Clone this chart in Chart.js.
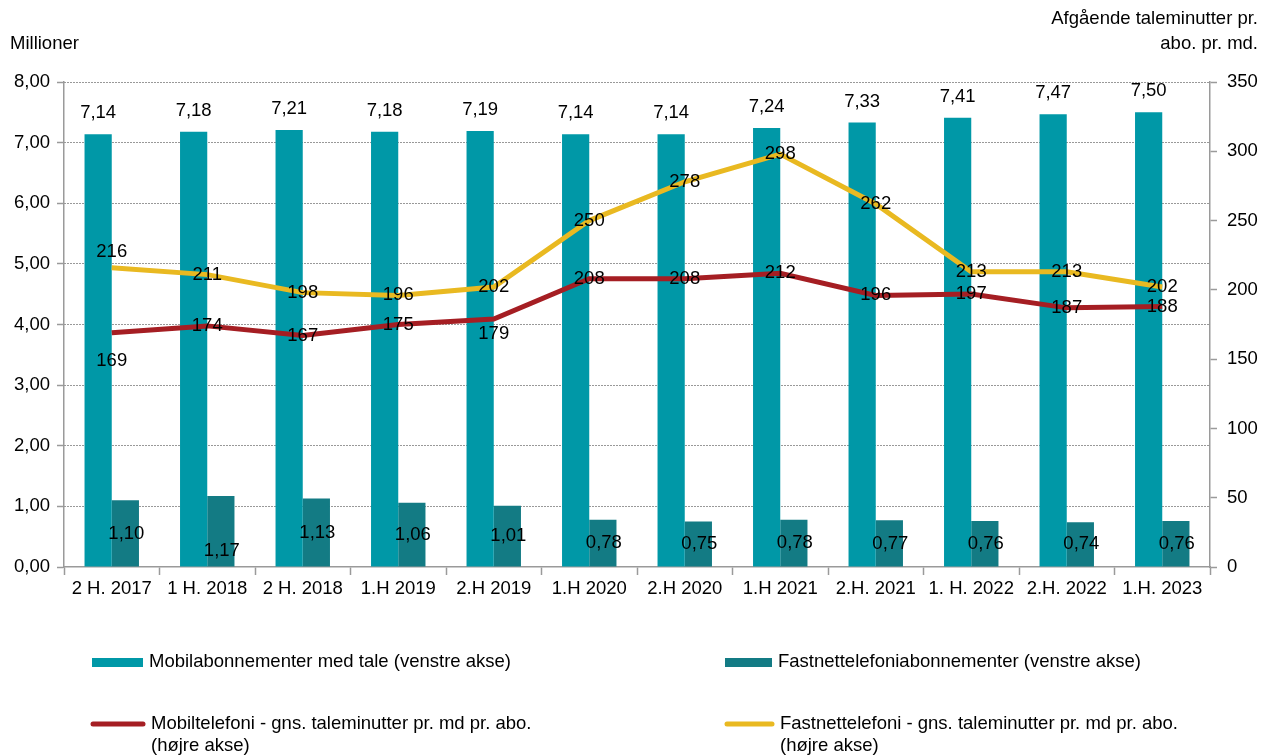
<!DOCTYPE html>
<html lang="da">
<head>
<meta charset="utf-8">
<title>Tale: abonnementer og taleminutter</title>
<script src="https://cdn.jsdelivr.net/npm/chart.js@4.4.1/dist/chart.umd.min.js"></script>
<style>
  html, body { margin: 0; padding: 0; background: #fff; }
  #wrap { position: relative; width: 1275px; height: 756px; }
</style>
</head>
<body>
<div id="wrap"><canvas id="chart"></canvas></div>
<script>
// ── data ─────────────────────────────────────
const periods = ['2 H. 2017', '1 H. 2018', '2 H. 2018', '1.H 2019', '2.H 2019', '1.H 2020',
                 '2.H 2020', '1.H 2021', '2.H. 2021', '1. H. 2022', '2.H. 2022', '1.H. 2023'];
const mobilAbo = [7.14, 7.18, 7.21, 7.18, 7.19, 7.14, 7.14, 7.24, 7.33, 7.41, 7.47, 7.50];
const fastnetAbo = [1.10, 1.17, 1.13, 1.06, 1.01, 0.78, 0.75, 0.78, 0.77, 0.76, 0.74, 0.76];
const mobilMinutter = [169, 174, 167, 175, 179, 208, 208, 212, 196, 197, 187, 188];
const fastnetMinutter = [216, 211, 198, 196, 202, 250, 278, 298, 262, 213, 213, 202];
const leftTicks = [0, 1, 2, 3, 4, 5, 6, 7, 8];
const rightTicks = [0, 50, 100, 150, 200, 250, 300, 350];

const FONT = '"Liberation Sans", Arial, sans-serif';
const FS = 18.5;
const AXIS_GREY = '#9a9a9a';
const comma = (v, d) => v.toFixed(d).replace('.', ',');

// ── labels on bars and lines ─────────────────
const valueLabels = {
    id: 'valueLabels',
    afterDatasetsDraw(chart) {
        const ctx = chart.ctx;
        ctx.save();
        ctx.font = FS + 'px ' + FONT;
        ctx.fillStyle = '#000';
        ctx.textAlign = 'center';
        ctx.textBaseline = 'middle';
        // a few labels sit off their point in the original
        const nudge = { '3:0': -16, '2:0': 28, '2:4': 15, '1:1': 20 };
        chart.data.datasets.forEach((ds, di) => {
            const meta = chart.getDatasetMeta(di);
            meta.data.forEach((el, i) => {
                const v = ds.data[i];
                const n = nudge[di + ':' + i] || 0;
                if (ds.type === 'bar' && di === 0) {
                    ctx.fillText(comma(v, 2), el.x, el.y - 21);
                } else if (ds.type === 'bar') {
                    ctx.fillText(comma(v, 2), el.x + 1, (el.y + el.base) / 2 + n);
                } else {
                    ctx.fillText(String(v), el.x, el.y + n);
                }
            });
        });
        ctx.restore();
    }
};

// ── titles and legend ────────────────────────
const frame = {
    id: 'frame',
    afterDraw(chart) {
        const ctx = chart.ctx;
        ctx.save();
        ctx.font = FS + 'px ' + FONT;
        ctx.fillStyle = '#000';
        ctx.textBaseline = 'middle';
        ctx.textAlign = 'left';
        ctx.fillText('Millioner', 10, 44);
        ctx.textAlign = 'right';
        ctx.fillText('Afgående taleminutter pr.', 1258, 19);
        ctx.fillText('abo. pr. md.', 1258, 44);

        const ds = chart.data.datasets;
        const items = [
            { d: ds[0], x: 92, w: 51, y: 662 },
            { d: ds[1], x: 725, w: 47, y: 662 },
            { d: ds[2], x: 91, w: 54, y: 724 },
            { d: ds[3], x: 725, w: 49, y: 724 }
        ];
        ctx.textAlign = 'left';
        items.forEach(it => {
            if (it.d.type === 'bar') {
                ctx.fillStyle = it.d.backgroundColor;
                ctx.fillRect(it.x, it.y - 4, it.w, 9);
            } else {
                ctx.strokeStyle = it.d.borderColor;
                ctx.lineWidth = 5;
                ctx.lineCap = 'round';
                ctx.beginPath();
                ctx.moveTo(it.x + 2, it.y);
                ctx.lineTo(it.x + it.w - 2, it.y);
                ctx.stroke();
            }
            ctx.fillStyle = '#000';
            const lines = it.d.label.split('\n');
            lines.forEach((t, k) => ctx.fillText(t, it.x + it.w + 6, it.y + k * 22));
        });
        ctx.restore();
    }
};

new Chart(document.getElementById('chart'), {
    data: {
        labels: periods,
        datasets: [
            {
                type: 'bar',
                label: 'Mobilabonnementer med tale (venstre akse)',
                data: mobilAbo,
                yAxisID: 'y',
                backgroundColor: '#0098a7',
                categoryPercentage: 0.57,
                barPercentage: 1.0,
                order: 2,
            },
            {
                type: 'bar',
                label: 'Fastnettelefoniabonnementer (venstre akse)',
                data: fastnetAbo,
                yAxisID: 'y',
                backgroundColor: '#137b84',
                categoryPercentage: 0.57,
                barPercentage: 1.0,
                order: 2,
            },
            {
                type: 'line',
                label: 'Mobiltelefoni - gns. taleminutter pr. md pr. abo.\n(højre akse)',
                data: mobilMinutter,
                yAxisID: 'y1',
                borderColor: '#a51e23',
                borderWidth: 5,
                pointRadius: 0,
                tension: 0,
                order: 1,
            },
            {
                type: 'line',
                label: 'Fastnettelefoni - gns. taleminutter pr. md pr. abo.\n(højre akse)',
                data: fastnetMinutter,
                yAxisID: 'y1',
                borderColor: '#e9b921',
                borderWidth: 5,
                pointRadius: 0,
                tension: 0,
                order: 0,
            },
        ],
    },
    options: {
        responsive: true,
        maintainAspectRatio: false,
        animation: false,
        layout: { padding: { top: 82, bottom: 149, left: 0, right: 0 } },
        plugins: {
            legend: { display: false },
            tooltip: { enabled: false },
        },
        scales: {
            x: {
                offset: true,
                afterFit: s => { s.height = 40; },
                border: { color: AXIS_GREY, width: 1.5 },
                grid: {
                    offset: true,
                    drawOnChartArea: false,
                    tickLength: 8,
                    tickColor: AXIS_GREY,
                    tickWidth: 1.5,
                },
                ticks: { color: '#000', font: { family: FONT, size: FS }, padding: 3, maxRotation: 0, autoSkip: false },
            },
            y: {
                position: 'left',
                min: 0,
                max: 8,
                afterFit: s => { s.width = 64; },
                afterBuildTicks: s => { s.ticks = leftTicks.map(v => ({ value: v })); },
                border: { color: AXIS_GREY, width: 1.5, dash: [1, 2] },
                grid: {
                    color: ctx => (ctx.tick && ctx.tick.value === 0 ? 'rgba(0,0,0,0)' : '#333'),
                    lineWidth: 1,
                    tickLength: 7,
                    tickColor: AXIS_GREY,
                    tickWidth: 1.5,
                    tickBorderDash: [],
                },
                ticks: {
                    color: '#000',
                    font: { family: FONT, size: FS },
                    padding: 7,
                    callback: v => comma(v, 2),
                },
            },
            y1: {
                position: 'right',
                min: 0,
                max: 350,
                afterFit: s => { s.width = 65; },
                afterBuildTicks: s => { s.ticks = rightTicks.map(v => ({ value: v })); },
                border: { color: AXIS_GREY, width: 1.5 },
                grid: {
                    drawOnChartArea: false,
                    tickLength: 7,
                    tickColor: AXIS_GREY,
                    tickWidth: 1.5,
                },
                ticks: {
                    color: '#000',
                    font: { family: FONT, size: FS },
                    padding: 10,
                },
            },
        },
    },
    plugins: [valueLabels, frame],
});
</script>
</body>
</html>
